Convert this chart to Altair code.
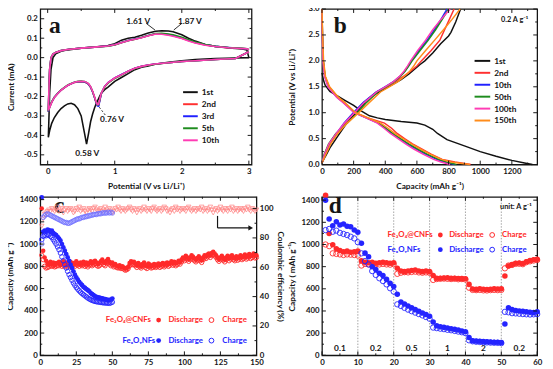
import altair as alt
import pandas as pd

FONT = "Lato"
SERIF = "Liberation Serif"
RED = "#ff2a2a"
BLUE = "#2424ff"
LRED = "#ff8a8a"
LBLUE = "#6f6fff"
INK = "#151515"

# ---------------- panel a : cyclic voltammetry ----------------
cath_v = [3.0, 2.8, 2.5, 2.2, 2.0, 1.8, 1.6, 1.5, 1.4, 1.3, 1.2, 1.1, 1.0, 0.9, 0.85, 0.8, 0.78, 0.76, 0.74,
          0.72, 0.7, 0.67, 0.64, 0.61, 0.58, 0.55, 0.5, 0.45, 0.4, 0.35, 0.3, 0.25, 0.2, 0.15, 0.1, 0.06, 0.03, 0.01]
anod_v = [0.01, 0.02, 0.03, 0.05, 0.08, 0.12, 0.2, 0.3, 0.5, 0.7, 0.9, 1.0, 1.1, 1.2, 1.3, 1.4, 1.5, 1.61, 1.7,
          1.8, 1.87, 2.0, 2.1, 2.2, 2.35, 2.5, 2.7, 2.9, 2.97, 3.0]

cv_names = ["1st", "2nd", "3rd", "5th", "10th"]
cv_colors = ["#111111", "#ff3030", "#2020ff", "#1e8c1e", "#ff3cb4"]
cv_cath = {
    "1st": [0.0, -0.002, -0.004, -0.01, -0.016, -0.024, -0.034, -0.043, -0.05, -0.062, -0.082, -0.102, -0.122,
            -0.152, -0.165, -0.183, -0.195, -0.21, -0.225, -0.24, -0.258, -0.29, -0.33, -0.39, -0.445, -0.39,
            -0.3, -0.262, -0.242, -0.235, -0.238, -0.248, -0.262, -0.282, -0.308, -0.338, -0.375, -0.41],
    "2nd": [0.03, -0.004, -0.01, -0.016, -0.02, -0.026, -0.033, -0.038, -0.045, -0.055, -0.07, -0.088, -0.105,
            -0.13, -0.15, -0.185, -0.215, -0.245, -0.245, -0.228, -0.205, -0.175, -0.152, -0.138, -0.13, -0.126,
            -0.124, -0.125, -0.128, -0.135, -0.143, -0.155, -0.168, -0.185, -0.205, -0.23, -0.255, -0.28],
    "3rd": [0.03, -0.004, -0.01, -0.016, -0.02, -0.026, -0.033, -0.038, -0.045, -0.055, -0.07, -0.087, -0.104,
            -0.128, -0.148, -0.185, -0.218, -0.25, -0.248, -0.23, -0.207, -0.176, -0.152, -0.137, -0.129, -0.125,
            -0.123, -0.124, -0.127, -0.134, -0.142, -0.154, -0.167, -0.184, -0.204, -0.229, -0.254, -0.278],
    "5th": [0.03, -0.004, -0.01, -0.016, -0.02, -0.026, -0.034, -0.039, -0.046, -0.056, -0.071, -0.09, -0.107,
            -0.131, -0.15, -0.183, -0.212, -0.242, -0.243, -0.227, -0.205, -0.174, -0.15, -0.135, -0.127, -0.123,
            -0.121, -0.122, -0.126, -0.133, -0.141, -0.153, -0.166, -0.183, -0.203, -0.228, -0.253, -0.276],
    "10th": [0.03, -0.004, -0.01, -0.016, -0.02, -0.026, -0.033, -0.038, -0.045, -0.055, -0.07, -0.088, -0.105,
             -0.129, -0.148, -0.182, -0.21, -0.24, -0.242, -0.226, -0.203, -0.173, -0.149, -0.134, -0.127, -0.123,
             -0.122, -0.123, -0.127, -0.134, -0.142, -0.154, -0.167, -0.184, -0.205, -0.23, -0.256, -0.272],
}
cv_anod = {
    "1st": [-0.41, -0.3, -0.18, -0.06, 0.0, 0.02, 0.033, 0.04, 0.048, 0.055, 0.062, 0.072, 0.09, 0.1, 0.105,
            0.115, 0.127, 0.136, 0.138, 0.137, 0.133, 0.118, 0.1, 0.085, 0.068, 0.058, 0.05, 0.044, 0.04, 0.0],
    "2nd": [-0.28, -0.15, -0.06, 0.0, 0.018, 0.027, 0.036, 0.042, 0.049, 0.054, 0.06, 0.066, 0.078, 0.088, 0.095,
            0.103, 0.113, 0.122, 0.122, 0.118, 0.113, 0.1, 0.088, 0.077, 0.065, 0.057, 0.051, 0.047, 0.045, 0.04],
    "3rd": [-0.278, -0.15, -0.06, 0.0, 0.018, 0.027, 0.036, 0.042, 0.049, 0.054, 0.06, 0.066, 0.078, 0.088, 0.096,
            0.104, 0.114, 0.123, 0.123, 0.119, 0.114, 0.101, 0.089, 0.078, 0.066, 0.058, 0.052, 0.047, 0.045, 0.04],
    "5th": [-0.276, -0.15, -0.06, 0.0, 0.018, 0.027, 0.036, 0.042, 0.049, 0.054, 0.059, 0.065, 0.077, 0.087, 0.095,
            0.104, 0.114, 0.124, 0.125, 0.122, 0.118, 0.105, 0.092, 0.08, 0.067, 0.058, 0.052, 0.048, 0.046, 0.04],
    "10th": [-0.272, -0.15, -0.06, 0.0, 0.018, 0.027, 0.036, 0.042, 0.049, 0.054, 0.06, 0.066, 0.077, 0.087, 0.094,
             0.102, 0.112, 0.121, 0.12, 0.115, 0.11, 0.098, 0.086, 0.075, 0.064, 0.057, 0.051, 0.047, 0.046, 0.042],
}
a_xticks = [0, 1, 2, 3]
a_xminor = [0.5, 1.5, 2.5]
a_yticks = [-0.5, -0.4, -0.3, -0.2, -0.1, 0.0, 0.1, 0.2]
a_yminor = [-0.45, -0.35, -0.25, -0.15, -0.05, 0.05, 0.15]

# ---------------- panel b : charge / discharge profiles ----------------
gc_names = ["1st", "2nd", "10th", "50th", "100th", "150th"]
gc_colors = ["#111111", "#ff3030", "#2020ff", "#1e8c1e", "#ff3cb4", "#ff8c1a"]
dis_v = [3.0, 2.5, 2.0, 1.7, 1.5, 1.3, 1.2, 1.1, 1.0, 0.9, 0.8, 0.7, 0.6, 0.5, 0.4, 0.3, 0.2, 0.1, 0.05, 0.0]
chg_v = [0.03, 0.2, 0.4, 0.6, 0.8, 1.0, 1.2, 1.4, 1.5, 1.6, 1.7, 1.8, 1.9, 2.0, 2.2, 2.4, 2.6, 2.8, 3.0]
first_dis_c = [0, 10, 20, 50, 100, 150, 200, 250, 300, 350, 400, 500, 600, 650, 700, 730, 790, 900, 1000,
               1100, 1200, 1280, 1330]
first_dis_v = [1.77, 1.62, 1.53, 1.41, 1.32, 1.23, 1.14, 1.03, 0.94, 0.9, 0.87, 0.83, 0.8, 0.76, 0.68, 0.6,
               0.48, 0.36, 0.25, 0.16, 0.08, 0.03, 0.0]
first_chg_c = [0, 20, 50, 100, 150, 200, 250, 300, 350, 400, 450, 500, 550, 620, 650, 700, 750, 800, 815, 845, 876]
first_chg_v = [0.03, 0.15, 0.32, 0.55, 0.77, 0.95, 1.12, 1.27, 1.38, 1.47, 1.55, 1.64, 1.75, 1.93, 2.0, 2.15,
               2.33, 2.48, 2.55, 2.75, 3.0]
gc_dis_c = {
    "2nd": [0, 3, 8, 20, 45, 100, 140, 175, 210, 290, 395, 440, 475, 522, 572, 630, 690, 760, 840, 940],
    "10th": [0, 3, 8, 18, 40, 95, 135, 170, 205, 280, 355, 400, 440, 490, 540, 595, 655, 725, 775, 840],
    "50th": [0, 3, 8, 19, 42, 97, 137, 172, 207, 283, 360, 405, 447, 497, 548, 604, 665, 736, 787, 850],
    "100th": [0, 2, 6, 16, 38, 92, 132, 167, 202, 278, 350, 392, 432, 480, 528, 580, 638, 705, 752, 810],
    "150th": [0, 4, 10, 22, 48, 103, 143, 178, 213, 292, 370, 418, 460, 512, 565, 622, 683, 755, 815, 935],
}
gc_chg_c = {
    "2nd": [0, 20, 50, 97, 147, 202, 265, 345, 405, 460, 515, 560, 600, 628, 690, 745, 775, 805, 835],
    "10th": [0, 18, 47, 92, 140, 198, 262, 342, 398, 452, 492, 522, 545, 565, 612, 665, 710, 752, 790],
    "50th": [0, 14, 42, 88, 160, 225, 282, 352, 405, 455, 495, 525, 548, 570, 620, 672, 718, 760, 800],
    "100th": [0, 16, 44, 90, 142, 205, 268, 345, 400, 452, 490, 518, 540, 560, 605, 655, 700, 752, 810],
    "150th": [0, 25, 55, 100, 160, 232, 300, 370, 425, 480, 520, 555, 580, 600, 655, 712, 768, 822, 873],
}
b_xticks = [0, 200, 400, 600, 800, 1000, 1200]
b_xminor = [100, 300, 500, 700, 900, 1100, 1300]
b_yticks = [0, 0.5, 1.0, 1.5, 2.0, 2.5, 3.0]
b_yminor = [0.25, 0.75, 1.25, 1.75, 2.25, 2.75]

# ---------------- panel c : cycling ----------------
cnf_dis = [1320, 940, 880, 850, 830, 815, 840, 820, 835, 810, 830, 825, 840, 815, 830, 845, 820, 835, 810, 825,
           840, 815, 830, 820, 845, 830, 815, 835, 825, 840, 820, 835, 815, 830, 845, 825, 840, 850, 835, 820,
           830, 845, 860, 840, 830, 850, 865, 840, 825, 835, 815, 820, 805, 800, 810, 795, 800, 790, 780, 785,
           795, 830, 845, 835, 840, 825, 810, 830, 815, 800, 820, 835, 810, 800, 825, 815, 800, 810, 820, 805,
           815, 825, 810, 820, 830, 815, 825, 835, 820, 830, 845, 830, 840, 825, 835, 850, 840, 860, 880, 870,
           895, 880, 865, 880, 900, 885, 870, 860, 875, 890, 870, 855, 880, 900, 890, 905, 915, 900, 920, 930,
           915, 900, 880, 865, 880, 895, 875, 860, 880, 895, 870, 885, 900, 880, 870, 890, 875, 885, 900, 880,
           890, 905, 885, 895, 910, 890, 900, 915, 895, 900]
cnf_chg = [900, 860, 800, 785, 790, 795, 810, 800, 805, 795, 800, 810, 805, 815, 800, 810, 800, 815, 795, 805,
           815, 800, 810, 800, 820, 810, 800, 815, 805, 815, 800, 810, 795, 810, 820, 805, 815, 825, 810, 800,
           805, 820, 835, 815, 805, 825, 840, 820, 805, 815, 795, 800, 790, 785, 790, 780, 785, 775, 765, 770,
           780, 805, 820, 815, 815, 805, 790, 810, 795, 785, 800, 815, 790, 780, 805, 795, 785, 790, 800, 790,
           795, 805, 790, 800, 810, 795, 805, 815, 800, 810, 825, 810, 820, 805, 815, 830, 820, 840, 860, 850,
           875, 860, 845, 860, 880, 865, 850, 840, 855, 870, 850, 835, 860, 880, 870, 885, 895, 880, 900, 910,
           895, 880, 860, 845, 860, 875, 855, 840, 860, 875, 850, 865, 880, 860, 850, 870, 855, 865, 880, 860,
           870, 885, 865, 875, 890, 870, 880, 895, 875, 880]
cnf_ce = [88, 93, 96, 97, 98, 99, 98, 100, 99, 98, 99, 101, 98, 99, 100, 97, 99, 100, 98, 99,
          100, 99, 97, 98, 100, 99, 101, 98, 99, 100, 98, 97, 99, 100, 99, 98, 100, 101, 99, 98,
          99, 100, 98, 99, 101, 99, 98, 100, 99, 97, 98, 100, 99, 101, 99, 98, 100, 99, 98, 99,
          100, 101, 99, 98, 100, 99, 97, 99, 100, 98, 99, 101, 99, 98, 100, 99, 98, 100, 101, 99,
          98, 99, 100, 98, 99, 101, 100, 98, 99, 97, 99, 100, 98, 101, 99, 100, 98, 99, 100, 99,
          98, 100, 101, 99, 98, 99, 100, 98, 99, 100, 99, 101, 98, 99, 100, 98, 99, 101, 99, 97,
          99, 100, 98, 99, 101, 99, 98, 100, 99, 98, 100, 99, 101, 98, 99, 100, 98, 99, 100, 99,
          98, 100, 99, 101, 99, 98, 100, 99, 98, 99]
nf_dis = [1420, 1110, 1120, 1115, 1130, 1125, 1110, 1120, 1100, 1090, 1080, 1065, 1050, 1030, 1000, 970, 940,
          910, 880, 850, 815, 785, 755, 725, 700, 680, 660, 645, 630, 615, 605, 595, 585, 575, 560, 550, 540,
          530, 525, 520, 518, 515, 512, 508, 505, 500, 498, 497, 500, 510]
nf_chg = [1040, 1070, 1080, 1075, 1085, 1080, 1070, 1060, 1040, 1020, 1000, 975, 950, 920, 885, 850, 815, 785,
          755, 725, 700, 675, 650, 630, 610, 595, 580, 567, 555, 545, 535, 525, 515, 507, 500, 494, 489, 485,
          482, 480, 478, 476, 474, 472, 471, 470, 469, 468, 472, 478]
nf_ce = [76, 94, 95, 96, 96.5, 96, 95.5, 95, 94.5, 94, 93.5, 93, 92.5, 92, 91.5, 91, 90.5, 90.5, 90, 90,
         90.5, 91, 91.5, 92, 92.5, 93, 93, 93.5, 94, 94, 94.5, 94.5, 95, 95, 95.5, 95.5, 96, 96, 96, 96.5,
         96.5, 96.5, 97, 97, 97, 97, 97.5, 97, 97.5, 97]
c_xticks = [0, 25, 50, 75, 100, 125, 150]
c_xminor = [12.5, 37.5, 62.5, 87.5, 112.5, 137.5]
cap_ticks = [0, 200, 400, 600, 800, 1000, 1200, 1400]
cap_minor = [100, 300, 500, 700, 900, 1100, 1300]
ce_ticks = [0, 20, 40, 60, 80, 100]
ce_minor = [10, 30, 50, 70, 90]

# ---------------- panel d : rate capability ----------------
rate_cnf_dis = [1444, 1100, 998, 962, 945, 935, 940, 930, 935, 940, 852, 840, 835, 840, 830, 835, 840, 835, 830, 835,
                785, 760, 755, 760, 765, 770, 760, 755, 760, 755, 720, 696, 695, 698, 700, 696, 695, 694, 692, 690,
                640, 598, 595, 600, 597, 594, 596, 600, 598, 600, 716, 805, 820, 830, 832, 828, 845, 855, 862, 866]
rate_cnf_chg = [1000, 985, 920, 915, 910, 905, 910, 908, 905, 900, 810, 825, 820, 825, 822, 820, 825, 820, 818, 822,
                735, 745, 750, 748, 752, 755, 748, 745, 748, 744, 680, 688, 690, 692, 690, 688, 690, 686, 688, 684,
                610, 590, 588, 590, 586, 585, 588, 590, 588, 590, 785, 810, 815, 825, 826, 822, 840, 848, 855, 860]
rate_nf_dis = [1400, 1230, 1170, 1205, 1175, 1185, 1165, 1160, 1130, 1110, 1012, 922, 890, 800, 775, 740, 720, 685,
               650, 620, 550, 480, 462, 445, 428, 412, 398, 382, 368, 352, 300, 266, 258, 252, 246, 240, 234, 228,
               220, 212, 160, 132, 128, 126, 124, 122, 120, 118, 117, 116, 282, 430, 412, 405, 400, 398, 392, 388,
               385, 392]
rate_nf_chg = [1130, 1140, 1115, 1125, 1105, 1095, 1085, 1070, 1055, 1020, 920, 850, 820, 760, 725, 695, 670, 640,
               605, 575, 460, 445, 428, 412, 398, 385, 372, 360, 345, 330, 250, 245, 240, 236, 230, 226, 220, 214,
               208, 200, 135, 126, 122, 120, 118, 116, 114, 113, 112, 110, 392, 388, 380, 378, 375, 372, 370, 368,
               370, 372]
rate_steps = [10, 20, 30, 40, 50]
rate_label_pos = [5, 15, 25, 35, 45, 55]
rate_labels = ["0.1", "0.2", "0.5", "1", "2", "0.2"]
d_xticks = [0, 10, 20, 30, 40, 50, 60]
d_xminor = [5, 15, 25, 35, 45, 55]


# ---------------- helpers ----------------
def ax(values, title, fmt=None, orient=None, titlePadding=3, titleX=None, minus=False):
    kw = dict(values=values, title=title, titlePadding=titlePadding)
    if fmt:
        kw["format"] = fmt
    if minus:
        kw["labelExpr"] = "replace(format(datum.value, '.1f'), '\u2212', '-')"
    if orient:
        kw["orient"] = orient
    if titleX is not None:
        kw["titleX"] = titleX
    return alt.Axis(**kw)


def txt(s, x, y, color=INK, size=8, align="left", font=FONT, weight="bold"):
    return alt.Chart(pd.DataFrame({"t": [s]})).mark_text(
        align=align, baseline="middle", font=font, fontSize=size, fontWeight=weight, color=color
    ).encode(x=alt.value(x), y=alt.value(y), text="t:N")


def seg(x1, x2, y, color, width=2):
    return alt.Chart(pd.DataFrame({"t": [0]})).mark_rule(color=color, strokeWidth=width).encode(
        x=alt.value(x1), x2=alt.value(x2), y=alt.value(y))


def dot(x, y, color, filled, size=24):
    return alt.Chart(pd.DataFrame({"t": [0]})).mark_point(
        color=color, filled=filled, size=size, opacity=1, strokeWidth=1
    ).encode(x=alt.value(x), y=alt.value(y))


def xticks(vals, X, field, H, L):
    df = pd.DataFrame({field: vals})
    bot = alt.Chart(df).mark_rule(color=INK, strokeWidth=1).encode(x=X, y=alt.value(H - L), y2=alt.value(H))
    top = alt.Chart(df).mark_rule(color=INK, strokeWidth=1).encode(x=X, y=alt.value(0), y2=alt.value(L))
    return [bot, top]


def yticks(vals, Y, field, W, L, left=True, right=True):
    df = pd.DataFrame({field: vals})
    out = []
    if left:
        out.append(alt.Chart(df).mark_rule(color=INK, strokeWidth=1).encode(y=Y, x=alt.value(0), x2=alt.value(L)))
    if right:
        out.append(alt.Chart(df).mark_rule(color=INK, strokeWidth=1).encode(y=Y, x=alt.value(W - L), x2=alt.value(W)))
    return out


MAJ, MIN = 4, 2

# ---------------- panel a chart ----------------
rows = []
for nm in cv_names:
    k = 0
    for v, i in zip(cath_v, cv_cath[nm]):
        rows.append({"cyc": nm, "v": v, "i": i, "k": k}); k += 1
    for v, i in zip(anod_v, cv_anod[nm]):
        rows.append({"cyc": nm, "v": v, "i": i, "k": k}); k += 1
df_a = pd.DataFrame(rows)

A_W, A_H = 216, 159
X_A = alt.X("v:Q", scale=alt.Scale(domain=[-0.11, 3.04], nice=False, zero=False),
            axis=ax(a_xticks, "Potential (V vs Li/Li\u207a)", fmt="d", titlePadding=6))
Y_A = alt.Y("i:Q", scale=alt.Scale(domain=[-0.55, 0.25], nice=False, zero=False),
            axis=ax(a_yticks, "Current (mA)", minus=True, titleX=-25))

lines_a = alt.Chart(df_a).mark_line(strokeWidth=1.6).encode(
    x=X_A, y=Y_A,
    color=alt.Color("cyc:N", scale=alt.Scale(domain=cv_names, range=cv_colors), legend=None),
    order="k:Q",
)
ticks_a = (xticks(a_xticks, X_A, "v", A_H, MAJ) + xticks(a_xminor, X_A, "v", A_H, MIN)
           + yticks(a_yticks, Y_A, "i", A_W, MAJ) + yticks(a_yminor, Y_A, "i", A_W, MIN))
ann_a = [
    alt.Chart(pd.DataFrame({"v": [1.47], "i": [0.176], "v2": [1.6], "i2": [0.142]})).mark_rule(
        color=INK, strokeWidth=0.9).encode(x=X_A, y=Y_A, x2="v2:Q", y2="i2:Q"),
    alt.Chart(pd.DataFrame({"v": [2.0], "i": [0.176], "v2": [1.88], "i2": [0.142]})).mark_rule(
        color=INK, strokeWidth=0.9).encode(x=X_A, y=Y_A, x2="v2:Q", y2="i2:Q"),
    alt.Chart(pd.DataFrame({"v": [0.77], "i": [-0.255], "v2": [0.87], "i2": [-0.3]})).mark_rule(
        color=INK, strokeWidth=0.9, strokeDash=[2, 2]).encode(x=X_A, y=Y_A, x2="v2:Q", y2="i2:Q"),
    alt.Chart(pd.DataFrame({"v": [1.35, 2.12, 0.96, 0.59], "i": [0.19, 0.19, -0.318, -0.49],
                            "t": ["1.61 V", "1.87 V", "0.76 V", "0.58 V"]})).mark_text(
        font=FONT, fontSize=8.5, fontWeight="bold", color=INK).encode(x=X_A, y=Y_A, text="t:N"),
]
leg_a = []
for idx, (nm, col) in enumerate(zip(cv_names, cv_colors)):
    yy = 85 + idx * 12.3
    leg_a.append(seg(146, 161, yy, col))
    leg_a.append(txt(nm, 165, yy, size=8.5))
panel_a = alt.layer(lines_a, *ticks_a, *ann_a, *leg_a,
                    txt("a", 9, 18, size=24, font=SERIF)).properties(width=A_W, height=A_H)

# ---------------- panel b chart ----------------
rows = []
for nm in gc_names:
    if nm == "1st":
        dc, dv, cc, cvv = first_dis_c, first_dis_v, first_chg_c, first_chg_v
    else:
        dc, dv, cc, cvv = gc_dis_c[nm], dis_v, gc_chg_c[nm], chg_v
    for k, (c, v) in enumerate(zip(dc, dv)):
        rows.append({"cyc": nm, "seg": nm + "d", "c": c, "v": v, "k": k})
    for k, (c, v) in enumerate(zip(cc, cvv)):
        rows.append({"cyc": nm, "seg": nm + "c", "c": c, "v": v, "k": k})
df_b = pd.DataFrame(rows)

B_W, B_H = 220, 159
X_B = alt.X("c:Q", scale=alt.Scale(domain=[0, 1360], nice=False, zero=False),
            axis=ax(b_xticks, "Capacity (mAh g\u207b\u00b9)", fmt="d", titlePadding=6))
Y_B = alt.Y("v:Q", scale=alt.Scale(domain=[0, 3], nice=False, zero=False),
            axis=ax(b_yticks, "Potential (V vs Li/Li\u207a)", fmt=".1f", titleX=-26))
lines_b = alt.Chart(df_b).mark_line(strokeWidth=1.5).encode(
    x=X_B, y=Y_B,
    color=alt.Color("cyc:N", scale=alt.Scale(domain=gc_names, range=gc_colors), legend=None),
    detail="seg:N",
    order="k:Q",
)
ticks_b = (xticks(b_xticks, X_B, "c", B_H, MAJ) + xticks(b_xminor, X_B, "c", B_H, MIN)
           + yticks(b_yticks, Y_B, "v", B_W, MAJ) + yticks(b_yminor, Y_B, "v", B_W, MIN))
leg_b = []
for idx, (nm, col) in enumerate(zip(gc_names, gc_colors)):
    yy = 53 + idx * 12.2
    leg_b.append(seg(156, 172, yy, col))
    leg_b.append(txt(nm, 176, yy, size=8.5))
panel_b = alt.layer(lines_b, *ticks_b, *leg_b, txt("0.2 A g\u207b\u00b9", 183, 11, size=7.5),
                    txt("b", 12, 17, size=24, font=SERIF)).properties(width=B_W, height=B_H)

# ---------------- panel c chart ----------------
C_W, C_H = 221, 162
X_C = alt.X("n:Q", scale=alt.Scale(domain=[0, 150], nice=False, zero=False), axis=ax(c_xticks, None, fmt="d"))
Y_C = alt.Y("cap:Q", scale=alt.Scale(domain=[0, 1425], nice=False, zero=False),
            axis=ax(cap_ticks, "Capacity (mAh g\u207b\u00b9)", fmt="d", titleX=-26))
E_C = alt.Y("ce:Q", scale=alt.Scale(domain=[0, 108], nice=False, zero=False),
            axis=ax(ce_ticks, "Coulombic efficiency (%)", orient="right", fmt="d", titlePadding=3))


def pts(values, color, filled, size, field="cap", shape="circle", sw=0.9):
    df = pd.DataFrame({"n": list(range(1, len(values) + 1)), field: values})
    return alt.Chart(df).mark_point(filled=filled, color=color, size=size, shape=shape, opacity=1,
                                    strokeWidth=sw)


leg_c = [
    txt("Fe\u2083O\u2084@CNFs", 67, 126, RED), dot(121, 126, RED, True), txt("Discharge", 131, 126, RED),
    dot(175, 126, RED, False), txt("Charge", 186, 126, RED),
    txt("Fe\u2093O\u1d67NFs", 84, 147, BLUE), dot(121, 147, BLUE, True), txt("Discharge", 131, 147, BLUE),
    dot(175, 147, BLUE, False), txt("Charge", 186, 147, BLUE),
    txt("c", 14, 10, size=24, font=SERIF),
]
c_left = alt.layer(
    pts(cnf_chg, RED, False, 20).encode(x=X_C, y=Y_C),
    pts(cnf_dis, RED, True, 22).encode(x=X_C, y=Y_C),
    pts(nf_chg, BLUE, False, 22).encode(x=X_C, y=Y_C),
    pts(nf_dis, BLUE, True, 24).encode(x=X_C, y=Y_C),
    *xticks(c_xticks, X_C, "n", C_H, MAJ), *xticks(c_xminor, X_C, "n", C_H, MIN),
    *yticks(cap_ticks, Y_C, "cap", C_W, MAJ, right=False), *yticks(cap_minor, Y_C, "cap", C_W, MIN, right=False),
    *leg_c,
)
c_right = alt.layer(
    pts(cnf_ce, LRED, False, 22, field="ce", shape="triangle-down", sw=0.8).encode(x=X_C, y=E_C),
    pts(nf_ce, LBLUE, False, 22, field="ce", sw=0.8).encode(x=X_C, y=E_C),
    alt.Chart(pd.DataFrame({"n": [123], "ce": [95], "ce2": [86.8]})).mark_rule(color=INK, strokeWidth=1.2)
    .encode(x=X_C, y=E_C, y2="ce2:Q"),
    alt.Chart(pd.DataFrame({"n": [123], "n2": [145], "ce": [86.8]})).mark_rule(color=INK, strokeWidth=1.2)
    .encode(x=X_C, x2="n2:Q", y=E_C),
    alt.Chart(pd.DataFrame({"n": [146], "ce": [86.8]})).mark_point(
        shape="triangle-right", filled=True, color=INK, size=30, opacity=1).encode(x=X_C, y=E_C),
    *yticks(ce_ticks, E_C, "ce", C_W, MAJ, left=False), *yticks(ce_minor, E_C, "ce", C_W, MIN, left=False),
)
panel_c = alt.layer(c_left, c_right).resolve_scale(y="independent").properties(width=C_W, height=C_H)

# ---------------- panel d chart ----------------
D_W, D_H = 220, 162
X_D = alt.X("n:Q", scale=alt.Scale(domain=[0, 60], nice=False, zero=False), axis=ax(d_xticks, None, fmt="d"))
Y_D = alt.Y("cap:Q", scale=alt.Scale(domain=[0, 1430], nice=False, zero=False),
            axis=ax(cap_ticks, "Capacity ( mAh g\u207b\u00b9)", fmt="d", titleX=-26))
steps_d = alt.Chart(pd.DataFrame({"n": rate_steps})).mark_rule(
    color="#8a8a8a", strokeWidth=0.8, strokeDash=[1.5, 1.5]).encode(x=X_D)
rate_txt = alt.Chart(pd.DataFrame({"n": rate_label_pos, "t": rate_labels})).mark_text(
    font=FONT, fontSize=8.5, fontWeight="bold", color=INK, baseline="middle").encode(
    x=X_D, y=alt.value(155), text="t:N")
leg_d = [
    txt("Fe\u2083O\u2084@CNFs", 67, 39, RED), dot(121, 39, RED, True), txt("Discharge", 130, 39, RED),
    dot(174, 39, RED, False), txt("Charge", 184, 39, RED),
    txt("Fe\u2093O\u1d67NFs", 67, 54, BLUE), dot(121, 54, BLUE, True), txt("Discharge", 130, 54, BLUE),
    dot(174, 54, BLUE, False), txt("Charge", 184, 54, BLUE),
    txt("unit: A g\u207b\u00b9", 182, 10, size=7.5),
    txt("d", 7, 10, size=24, font=SERIF),
]
panel_d = alt.layer(
    steps_d, rate_txt,
    pts(rate_cnf_chg, RED, False, 30).encode(x=X_D, y=Y_D),
    pts(rate_cnf_dis, RED, True, 32).encode(x=X_D, y=Y_D),
    pts(rate_nf_chg, BLUE, False, 30).encode(x=X_D, y=Y_D),
    pts(rate_nf_dis, BLUE, True, 32).encode(x=X_D, y=Y_D),
    *xticks(d_xticks, X_D, "n", D_H, MAJ), *xticks(d_xminor, X_D, "n", D_H, MIN),
    *yticks(cap_ticks, Y_D, "cap", D_W, MAJ), *yticks(cap_minor, Y_D, "cap", D_W, MIN),
    *leg_d,
).properties(width=D_W, height=D_H)

chart = alt.concat(panel_a, panel_b, panel_c, panel_d, columns=2).resolve_scale(
    x="independent", y="independent", color="independent"
).properties(
    spacing={"row": 33, "column": 67}, bounds="flush",
    padding={"left": -3, "top": -8, "right": 2, "bottom": 0},
).configure_view(stroke=INK, strokeWidth=1.3).configure_axis(
    domain=False, ticks=False, grid=False, labelPadding=3,
    labelOverlap=False, labelFlush=False, labelBound=False,
    labelFont=FONT, labelFontSize=8, labelFontWeight="bold", labelColor=INK,
    titleFont=FONT, titleFontSize=8.5, titleFontWeight="bold", titleColor=INK,
)

chart.save("out.html", embed_options={"renderer": "svg", "actions": False})
